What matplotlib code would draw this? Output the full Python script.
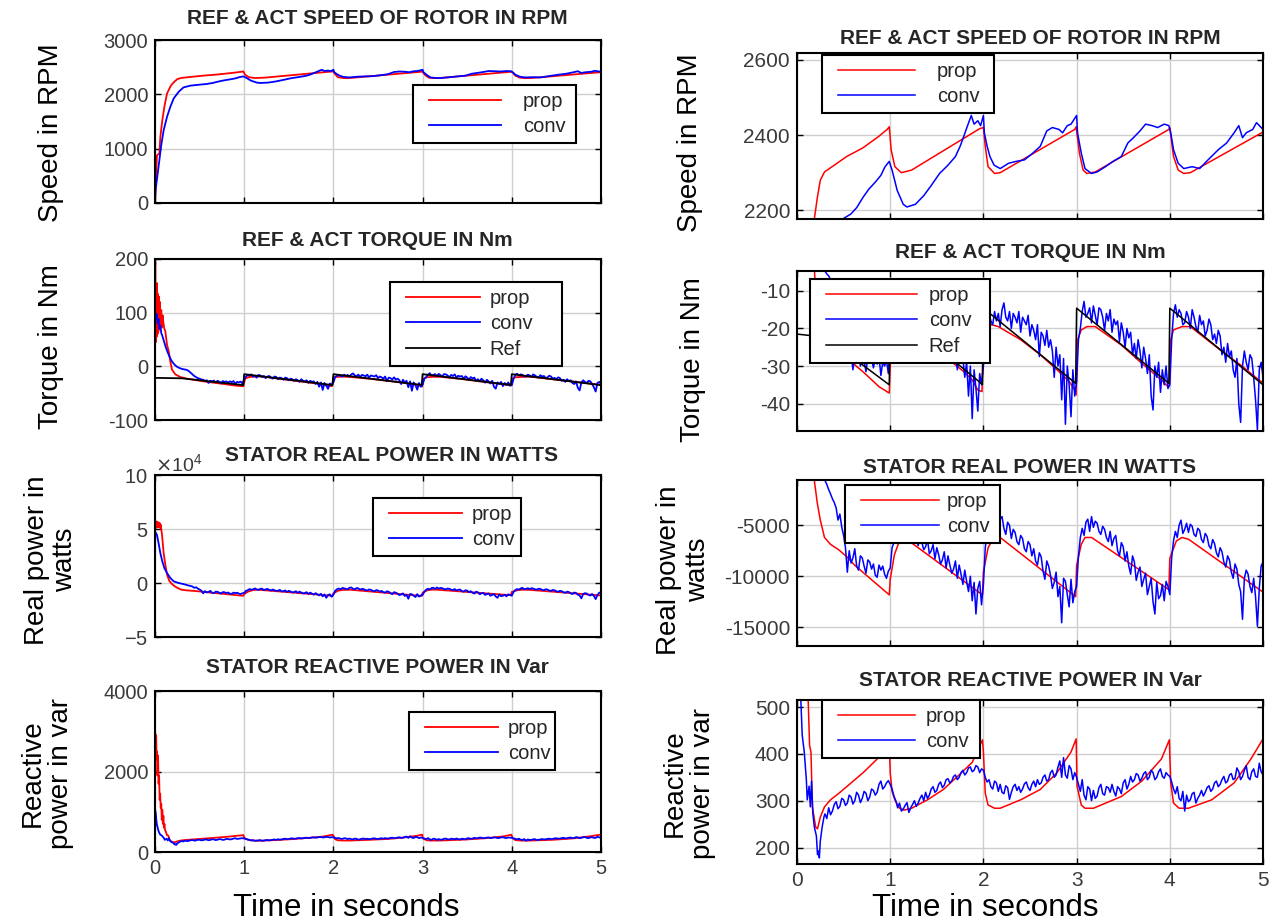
import matplotlib
matplotlib.use('Agg')  # no display

import matplotlib.pyplot as plt
import numpy as np
from matplotlib.legend_handler import HandlerLine2D
from matplotlib.lines import Line2D

plt.rcParams['font.family'] = ['Liberation Sans', 'DejaVu Sans']
plt.rcParams['axes.unicode_minus'] = False

W, H, DPI = 1270, 922, 100
DT = 0.02  # sample step of the noisy 'conv' traces

# ---------------- rotor speed (rpm) ----------------
prop_speed_t = [0, 0.007, 0.022, 0.049, 0.06, 0.082, 0.105, 0.135, 0.172, 0.186, 0.217, 0.25,
                0.295, 0.40, 0.533, 0.707, 0.88, 0.967, 0.99, 1.01, 1.05, 1.12, 1.23, 1.96, 2.0,
                2.02, 2.05, 2.12, 2.18, 2.98, 2.995, 3.03, 3.07, 3.11, 3.2, 3.99, 4.0, 4.04, 4.09,
                4.15, 4.22, 5.0]
prop_speed = [0, 295, 880, 910, 1218, 1525, 1771, 2017, 2140, 2177, 2232, 2280,
              2302, 2320, 2343, 2366, 2397, 2415, 2422, 2361, 2316, 2300, 2307, 2417, 2420,
              2370, 2316, 2298, 2300, 2415, 2422, 2352, 2307, 2298, 2302, 2415, 2420, 2343, 2307,
              2298, 2300, 2408]
conv_speed_t = [0, 0.007, 0.03, 0.049, 0.067, 0.097, 0.135, 0.172, 0.21, 0.266, 0.32, 0.397,
                0.51, 0.577, 0.64, 0.707, 0.77, 0.84, 0.90, 0.945, 0.99, 1.02, 1.075, 1.14, 1.18,
                1.27, 1.36, 1.44, 1.53, 1.62, 1.70, 1.75, 1.79, 1.83, 1.87, 1.90, 1.94, 1.97, 2.0,
                2.01, 2.04, 2.07, 2.115, 2.18, 2.27, 2.35, 2.44, 2.53, 2.61, 2.68, 2.74, 2.81,
                2.85, 2.90, 2.94, 3.0, 3.01, 3.05, 3.09, 3.16, 3.22, 3.31, 3.39, 3.48, 3.55, 3.61,
                3.68, 3.74, 3.81, 3.87, 3.94, 3.99, 4.01, 4.04, 4.09, 4.15, 4.24, 4.32, 4.41,
                4.52, 4.61, 4.69, 4.74, 4.78, 4.82, 4.89, 4.93, 5.0]
conv_speed = [0, 246, 541, 787, 1033, 1340, 1587, 1771, 1925, 2048, 2128, 2160,
              2180, 2190, 2207, 2234, 2256, 2275, 2293, 2316, 2330, 2307, 2253, 2216, 2209,
              2216, 2239, 2266, 2298, 2320, 2343, 2370, 2397, 2425, 2452, 2429, 2438, 2425, 2452,
              2406, 2370, 2343, 2320, 2311, 2325, 2330, 2334, 2352, 2370, 2411, 2420, 2415,
              2406, 2425, 2429, 2452, 2406, 2352, 2311, 2298, 2302, 2316, 2330, 2343, 2379, 2393,
              2411, 2429, 2425, 2420, 2429, 2425, 2406, 2361, 2325, 2311, 2316, 2311, 2334,
              2361, 2379, 2406, 2425, 2393, 2406, 2415, 2433, 2415]

# ---------------- torque (Nm) ----------------
prop_torque_t = [0, 0.003, 0.008, 0.013, 0.018, 0.023, 0.028, 0.033, 0.038, 0.043, 0.048,
                 0.055, 0.062, 0.07, 0.078, 0.086, 0.095, 0.105, 0.116, 0.135, 0.154, 0.172,
                 0.19, 0.228, 0.285, 0.36, 0.45, 0.577, 0.707, 0.88, 0.99, 1.0, 1.01, 1.05,
                 1.12, 1.2, 1.68, 1.79, 1.88, 1.94, 1.985, 2.0, 2.05, 2.09, 2.16, 2.40, 2.61,
                 2.79, 2.92, 2.98, 2.995, 3.01, 3.05, 3.11, 3.2, 3.48, 3.70, 3.91, 3.98, 3.995,
                 4.01, 4.04, 4.13, 4.22, 4.56, 4.78, 4.91, 5.0]
prop_torque = [30, 194, 45, 150, 55, 155, 60, 135, 65, 130, 70,
               120, 75, 105, 72, 95, 80, 70, 65, 40, 28, 9,
               -6, -15, -20, -23, -25.5, -28.8, -31.5, -35.5, -37.2, -30, -23, -20,
               -19, -19, -29.3, -31.5, -33.7, -36.4, -36.8, -20.4, -19.5, -19, -19.5, -23, -27,
               -31, -34.1, -36.4, -37.7, -23, -20.4, -19.5, -19.5, -24.4, -29.3, -33.7, -35.5, -35,
               -23, -20.4, -19.5, -19.5, -26.1, -30.1, -32.8, -34.5]
ref_torque_t = [0, 0.3, 0.45, 0.99, 1.0, 1.99, 2.0, 2.99, 3.0, 3.99, 4.0, 5.0]
ref_torque = [-21.5, -22.3, -25, -35, -14.6, -34.9, -14.6, -34.6, -14.6, -34.6, -14.6, -35]

conv_torque_start_t = [0, 0.002, 0.01, 0.02, 0.03, 0.04, 0.05, 0.06, 0.07, 0.08, 0.10, 0.12,
                       0.14, 0.16, 0.18]
conv_torque_start = [0, 102, 88, 97, 80, 88, 70, 76, 62, 58, 47, 36, 27, 19, 12]
conv_torque_0 = [7, 3, 0, -2, -3.5, -4.7, -5.5, -6, -7, -9,
                 -12, -15, -18, -20, -22, -23, -24.5, -25, -27, -26,
                 -31, -27, -28, -26.5, -30, -27, -28.5, -31.5, -27.5, -29,
                 -28, -30.5, -28, -29.5, -27.5, -32.5, -29, -30, -28.5, -32]
conv_torque_1 = [-24, -19, -16, -17, -15, -19, -18, -21, -16, -17,
                 -20, -18, -22, -19, -18, -21, -23, -19, -20, -24,
                 -21, -22, -25, -21, -22, -26, -23, -24, -27, -24,
                 -26, -29, -24, -27, -28, -26, -31, -27, -29, -28,
                 -33, -29, -38, -30, -44, -31, -36, -42, -32, -35]
conv_torque_2 = [-30, -20, -17.5, -16, -18, -19, -15.5, -18, -16, -19.5,
                 -15, -13.2, -17, -18, -15.5, -20, -16, -17, -18.5, -15.5,
                 -21, -17, -18, -19, -16.5, -22, -19, -20.5, -23, -19,
                 -27.5, -21, -22, -24.5, -20.5, -25, -23, -26, -33, -25,
                 -30, -27, -39, -28, -45.5, -30, -35, -43.5, -31, -38]
conv_torque_3 = [-34, -23, -20, -15.5, -12.8, -17, -16, -14.5, -18.5, -14,
                 -16.5, -19, -14.5, -15, -17, -20.5, -16, -18, -15, -21,
                 -17.5, -19, -18, -23.5, -18.5, -21, -25, -20, -22.5, -21,
                 -27, -24, -28, -23, -26, -30.5, -25, -28, -32, -27,
                 -38, -41.7, -30, -33, -29, -37, -31, -35, -30, -36]
conv_torque_4 = [-35, -23, -16, -13.7, -17, -15, -16, -19, -18.5, -15.5,
                 -17, -20, -15, -17, -19.5, -21, -16.5, -19, -18, -22,
                 -20.5, -17.5, -19, -23, -21.5, -24, -20.5, -22, -27, -25,
                 -29, -24, -27.5, -26, -31, -33, -28, -40, -45, -30,
                 -26, -29, -31, -27, -28, -33, -39, -47, -31, -29,
                 -33]

# ---------------- stator real power (W) ----------------
prop_power_t = [0, 0.004, 0.01, 0.016, 0.022, 0.028, 0.034, 0.04, 0.046, 0.052, 0.058, 0.064,
                0.07, 0.079, 0.097, 0.116, 0.135, 0.16, 0.186, 0.217, 0.25, 0.295, 0.36, 0.446,
                0.533, 0.62, 0.707, 0.837, 0.99, 1.0, 1.045, 1.1, 1.15, 1.99, 2.0, 2.05, 2.09,
                2.18, 2.99, 3.0, 3.05, 3.09, 3.16, 3.99, 4.0, 4.07, 4.13, 4.2, 5.0]
prop_power = [50000, 56000, 51000, 57000, 52000, 56500, 51500, 56000, 52000, 55500, 51000, 54000,
              50000, 44500, 27600, 16900, 7700, 2000, -600, -2780, -4490, -6195, -6877, -7390,
              -8072, -8925, -9608, -10630, -11826, -10290, -7900, -6500, -6200, -11826, -9600,
              -7220, -6536, -6195, -11997, -8925, -6877, -6195, -6195, -11314, -8243, -6536,
              -6195, -6365, -11550]
conv_power_start_t = [0, 0.002, 0.022, 0.04, 0.06, 0.082, 0.105, 0.135, 0.172, 0.21, 0.25, 0.28]
conv_power_start = [0, 47500, 44500, 37000, 27600, 20000, 13800, 9200, 4600, 1500, 400, -300]
conv_power_0 = [-600, -1000, -1500, -1930, -2400, -2780, -3300, -4490, -3900, -5170,
                -6000, -7200, -9600, -7500, -8700, -8200, -7300, -9000, -9400, -8000,
                -8200, -9000, -9700, -8400, -8600, -9300, -8800, -9900, -10100, -8900,
                -9400, -9000, -9800, -10200, -9500]
conv_power_1 = [-9200, -7200, -6700, -5600, -6200, -5900, -5000, -6000, -6400, -5400,
                -5200, -6600, -5900, -5500, -6300, -7000, -6000, -6700, -7400, -7100,
                -6400, -7800, -7500, -6900, -8300, -7200, -7900, -8800, -8400, -7600,
                -9200, -8000, -8900, -9700, -9300, -8500, -10200, -8900, -9800, -10800,
                -9400, -10500, -11500, -10000, -12400, -10600, -13700, -11200, -10500, -12800]
conv_power_2 = [-10800, -7200, -5800, -5100, -5900, -4600, -4900, -5500, -5800, -4400,
                -4150, -5300, -5900, -4700, -5000, -6300, -5400, -5700, -6600, -6900,
                -6000, -6300, -7300, -7600, -6600, -6900, -8000, -7300, -8500, -8900,
                -7700, -8100, -9500, -10300, -8500, -9000, -9900, -11200, -10600, -9600,
                -12000, -11000, -14560, -10200, -10500, -11800, -13000, -10300, -12600, -11500]
conv_power_3 = [-11000, -8000, -6200, -5300, -6000, -4700, -4400, -5600, -4150, -5200,
                -4600, -4800, -5600, -5900, -5100, -5400, -6200, -6600, -5600, -7000,
                -6300, -6000, -7500, -8000, -6700, -7100, -8500, -7600, -9000, -9800,
                -8000, -8600, -10400, -9600, -9100, -11000, -10300, -9700, -11800, -11000,
                -10200, -12500, -13700, -10600, -12200, -11900, -10800, -12400, -10500, -11000]
conv_power_4 = [-11800, -8200, -6500, -5600, -6200, -5000, -4500, -5800, -5400, -4800,
                -5700, -4900, -5100, -5900, -6100, -5300, -5500, -6400, -6700, -5800,
                -6100, -7000, -7300, -6400, -6800, -7700, -8100, -7200, -7600, -8600,
                -9100, -8000, -8400, -9600, -10200, -8800, -9300, -10800, -11500, -14220,
                -10200, -9400, -9800, -11000, -11600, -10200, -12000, -14900, -11200, -9000,
                -8600]

# ---------------- stator reactive power (var) ----------------
prop_var_t = [0, 0.004, 0.008, 0.013, 0.018, 0.023, 0.028, 0.034, 0.04, 0.046, 0.052, 0.058,
              0.064, 0.07, 0.076, 0.082, 0.088, 0.094, 0.1, 0.106, 0.112, 0.12, 0.135, 0.15,
              0.165, 0.2, 0.22, 0.25, 0.295, 0.36, 0.45, 0.58, 0.71, 0.86, 0.99, 1.0, 1.02,
              1.05, 1.1, 1.15, 1.23, 1.40, 1.57, 1.75, 1.88, 1.99, 2.0, 2.02, 2.05, 2.12, 2.18,
              2.40, 2.61, 2.79, 2.94, 2.995, 3.005, 3.05, 3.09, 3.18, 3.48, 3.70, 3.91, 3.995,
              4.01, 4.04, 4.1, 4.2, 4.45, 4.69, 4.87, 5.0]
prop_var = [3050, 2900, 2600, 2900, 2300, 2500, 1900, 2400, 1700, 1900, 1300, 1450,
            1100, 1200, 800, 1050, 700, 900, 600, 700, 550, 515, 418, 404,
            287, 244, 240, 265, 287, 302, 316, 338, 360, 389, 420, 360, 320,
            302, 284, 280, 284, 302, 324, 357, 382, 430, 404, 316, 291, 284, 284,
            302, 324, 360, 404, 432, 331, 291, 284, 284, 309, 342, 389, 430,
            338, 295, 284, 284, 302, 338, 389, 432]
conv_var_start_t = [0, 0.003, 0.01, 0.02, 0.03, 0.04, 0.056, 0.078, 0.10, 0.11, 0.13, 0.143,
                    0.156, 0.17, 0.186, 0.208, 0.22, 0.23, 0.24, 0.25, 0.27, 0.29]
conv_var_start = [0, 1030, 900, 700, 600, 520, 440, 404, 346, 302, 331, 287,
                  342, 273, 244, 225, 185, 193, 178, 214, 244, 266]
conv_var_0 = [272, 262, 285, 270, 278, 292, 298, 283, 288, 305,
              302, 290, 295, 312, 308, 293, 300, 318, 312, 296,
              305, 320, 316, 300, 308, 325, 322, 312, 318, 335,
              342, 325, 330, 338, 343]
conv_var_1 = [335, 325, 310, 300, 285, 295, 278, 282, 290, 296,
              275, 285, 292, 300, 288, 295, 305, 312, 300, 318,
              305, 312, 325, 330, 318, 322, 335, 340, 328, 333,
              345, 347, 338, 342, 352, 355, 345, 350, 360, 365,
              355, 360, 370, 372, 362, 365, 375, 372, 360, 368]
conv_var_2 = [365, 350, 340, 345, 330, 325, 342, 338, 320, 335,
              318, 315, 332, 328, 303, 318, 330, 335, 322, 330,
              318, 325, 336, 340, 328, 322, 335, 342, 330, 345,
              335, 338, 350, 355, 342, 345, 360, 365, 350, 355,
              372, 385, 350, 392, 355, 348, 375, 368, 345, 360]
conv_var_3 = [350, 335, 320, 345, 312, 302, 330, 325, 300, 322,
              305, 310, 328, 335, 315, 312, 330, 328, 318, 335,
              320, 310, 330, 325, 315, 338, 345, 325, 335, 352,
              340, 345, 358, 355, 342, 348, 358, 362, 345, 350,
              365, 360, 345, 350, 362, 368, 352, 348, 360, 355]
conv_var_4 = [352, 340, 325, 315, 330, 305, 300, 320, 278, 312,
              298, 302, 315, 318, 295, 305, 312, 322, 310, 318,
              328, 332, 320, 325, 338, 342, 330, 335, 345, 352,
              338, 342, 355, 358, 345, 348, 370, 362, 345, 352,
              365, 375, 350, 345, 362, 368, 352, 350, 380, 362,
              355]


def join_segments(start_t, start_v, first_t0, segments):
    # startup samples, then one block of DT-spaced samples per second of the run
    ts = [np.asarray(start_t, float)]
    vs = [np.asarray(start_v, float)]
    for k, seg in enumerate(segments):
        t0 = first_t0 if k == 0 else float(k)
        ts.append(t0 + DT * np.arange(len(seg)))
        vs.append(np.asarray(seg, float))
    return np.concatenate(ts), np.concatenate(vs)


conv_torque_tt, conv_torque_v = join_segments(
    conv_torque_start_t, conv_torque_start, 0.2,
    [conv_torque_0, conv_torque_1, conv_torque_2, conv_torque_3, conv_torque_4])
conv_power_tt, conv_power_v = join_segments(
    conv_power_start_t, conv_power_start, 0.3,
    [conv_power_0, conv_power_1, conv_power_2, conv_power_3, conv_power_4])
conv_var_tt, conv_var_v = join_segments(
    conv_var_start_t, conv_var_start, 0.3,
    [conv_var_0, conv_var_1, conv_var_2, conv_var_3, conv_var_4])

fig = plt.figure(figsize=(W / DPI, H / DPI), dpi=DPI)
fig.patch.set_facecolor('white')

TICK_COLOR = '#3a3a3a'
TITLE_COLOR = '#262626'
LEG_FS = 14.5
LEG_PX = LEG_FS * DPI / 72.0
XPAD_PX = 9.0


def pix_axes(x0, y0, x1, y1):
    return fig.add_axes([x0 / W, 1 - y1 / H, (x1 - x0) / W, (y1 - y0) / H])


def style(ax, ylim, yticks, bottom=False, fs=14.5):
    ax.set_xlim(0, 5)
    ax.set_ylim(*ylim)
    ax.set_xticks(range(6))
    ax.set_yticks(yticks)
    ax.grid(True, color='#cfcfcf', lw=1.0)
    ax.set_axisbelow(True)
    ax.tick_params(direction='in', length=4, width=1, labelsize=fs,
                   labelcolor=TICK_COLOR, top=True, right=True, pad=5)
    if not bottom:
        ax.tick_params(labelbottom=False)
    for s in ax.spines.values():
        s.set_linewidth(1.5)


def put_legend(ax, box, line_px, gap_px):
    # box = (left, top, right, bottom) in figure pixels
    x0, y0, x1, y1 = box
    leg = ax.legend(loc='upper left', mode='expand',
                    bbox_to_anchor=(x0 / W, 1 - y1 / H, (x1 - x0) / W, (y1 - y0) / H),
                    bbox_transform=fig.transFigure, borderaxespad=0, fontsize=LEG_FS,
                    handlelength=(line_px + XPAD_PX) / LEG_PX,
                    handletextpad=gap_px / LEG_PX, labelspacing=0.33, borderpad=0.33,
                    handler_map={Line2D: HandlerLine2D(xpad=XPAD_PX / LEG_PX)},
                    fancybox=False, framealpha=1, edgecolor='black', labelcolor=TITLE_COLOR)
    leg.get_frame().set_linewidth(1.5)
    return leg


def title(x, y, text):
    fig.text(x / W, 1 - y / H, text, ha='center', va='center', fontsize=15,
             fontweight='bold', color=TITLE_COLOR)


def ylab(x, y, text):
    return fig.text(x / W, 1 - y / H, text, ha='center', va='center', rotation=90,
                    fontsize=20, multialignment='center', linespacing=1.15)


LX0, LX1 = 155, 601
RX0, RX1 = 797, 1263
LW_L, LW_R = 1.3, 1.1

for col in range(2):
    x0, x1 = (LX0, LX1) if col == 0 else (RX0, RX1)
    lw = LW_L if col == 0 else LW_R
    fs = 14.5 if col == 0 else 15
    rows = [(40, 203), (259, 420), (475, 637), (691, 852)] if col == 0 else \
           [(53, 219), (271, 431), (480, 646), (700, 864)]

    # speed
    ax = pix_axes(x0, rows[0][0], x1, rows[0][1])
    ax.plot(prop_speed_t, prop_speed, color='#ff0000', lw=lw, label='prop')
    ax.plot(conv_speed_t, conv_speed, color='#0000ff', lw=lw, label='conv')
    if col == 0:
        style(ax, (0, 3000), [0, 1000, 2000, 3000], fs=fs)
        put_legend(ax, (413, 85, 576, 142), 72, 22)
    else:
        style(ax, (2177, 2618), [2200, 2400, 2600], fs=fs)
        put_legend(ax, (822, 55, 994, 115), 77, 22)

    # torque
    ax = pix_axes(x0, rows[1][0], x1, rows[1][1])
    ax.plot(prop_torque_t, prop_torque, color='#ff0000', lw=lw, label='prop')
    ax.plot(conv_torque_tt, conv_torque_v, color='#0000ff', lw=lw, label='conv')
    ax.plot(ref_torque_t, ref_torque, color='black', lw=lw, label='Ref')
    if col == 0:
        style(ax, (-100, 200), [-100, 0, 100, 200], fs=fs)
        put_legend(ax, (390, 282, 562, 357), 74, 10)
    else:
        style(ax, (-47.3, -4.7), [-40, -30, -20, -10], fs=fs)
        put_legend(ax, (810, 279, 990, 362), 91, 12)

    # real power
    ax = pix_axes(x0, rows[2][0], x1, rows[2][1])
    ax.plot(prop_power_t, prop_power, color='#ff0000', lw=lw, label='prop')
    ax.plot(conv_power_tt, conv_power_v, color='#0000ff', lw=lw, label='conv')
    if col == 0:
        style(ax, (-50000, 100000), [-50000, 0, 50000, 100000], fs=fs)
        ax.ticklabel_format(axis='y', style='sci', scilimits=(4, 4), useMathText=True)
        ax.yaxis.get_offset_text().set_fontsize(14)
        ax.yaxis.get_offset_text().set_color(TICK_COLOR)
        put_legend(ax, (373, 498, 521, 557), 73, 10)
    else:
        style(ax, (-16840, -560), [-15000, -10000, -5000], fs=fs)
        put_legend(ax, (845, 485, 1000, 544), 78, 8)

    # reactive power
    ax = pix_axes(x0, rows[3][0], x1, rows[3][1])
    ax.plot(prop_var_t, prop_var, color='#ff0000', lw=lw, label='prop')
    ax.plot(conv_var_tt, conv_var_v, color='#0000ff', lw=lw, label='conv')
    if col == 0:
        style(ax, (0, 4000), [0, 2000, 4000], bottom=True, fs=fs)
        put_legend(ax, (409, 712, 555, 769), 73, 10)
    else:
        style(ax, (165, 515), [200, 300, 400, 500], bottom=True, fs=fs)
        put_legend(ax, (822, 700, 980, 760), 77, 11)

# titles
title(377, 18, 'REF & ACT SPEED OF ROTOR IN RPM')
title(377, 240, 'REF & ACT TORQUE IN Nm')
title(392, 455, 'STATOR REAL POWER IN WATTS')
title(377, 667, 'STATOR REACTIVE POWER IN Var')
title(1030, 38, 'REF & ACT SPEED OF ROTOR IN RPM')
title(1030, 253, 'REF & ACT TORQUE IN Nm')
title(1030, 467, 'STATOR REAL POWER IN WATTS')
title(1030, 680, 'STATOR REACTIVE POWER IN Var')

# axis labels
ylab(51, 133, 'Speed in RPM')
ylab(51, 347, 'Torque in Nm')
ylab(51, 560, 'Real power in\nwatts')
ylab(47, 773, 'Reactive\npower in var')
ylab(690, 143, 'Speed in RPM')
ylab(693, 360, 'Torque in Nm')
ylab(684, 570, 'Real power in\nwatts')
ylab(689, 783, 'Reactive\npower in var')

fig.text(346 / W, 1 - 908 / H, 'Time in seconds', ha='center', va='center', fontsize=22.5)
fig.text(985 / W, 1 - 908 / H, 'Time in seconds', ha='center', va='center', fontsize=22.5)

fig.savefig('out.png', dpi=DPI)
